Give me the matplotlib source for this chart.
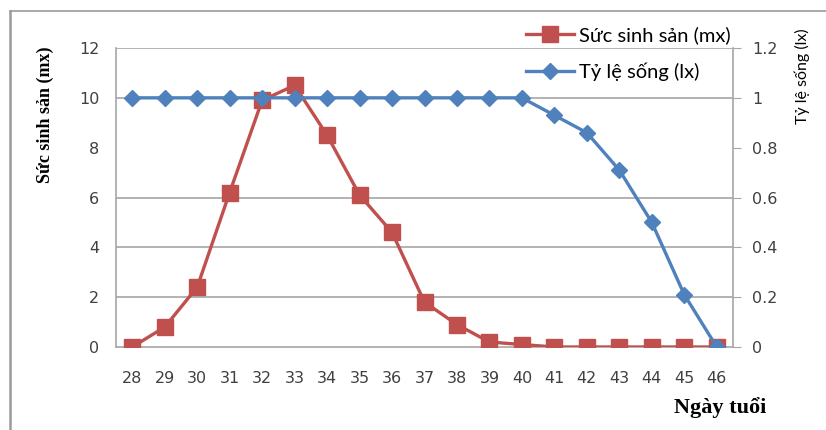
import numpy as np
import matplotlib
matplotlib.use('Agg')
import matplotlib.pyplot as plt
from matplotlib.lines import Line2D

# data
days = ['28', '29', '30', '31', '32', '33', '34', '35', '36', '37',
        '38', '39', '40', '41', '42', '43', '44', '45', '46']
mx = [0, 0.8, 2.4, 6.2, 9.9, 10.5, 8.5, 6.1, 4.6, 1.8,
      0.9, 0.2, 0.1, 0, 0, 0, 0, 0, 0]
lx = [1, 1, 1, 1, 1, 1, 1, 1, 1, 1,
      1, 1, 1, 0.93, 0.86, 0.71, 0.5, 0.21, 0]
left_ticks = [0, 2, 4, 6, 8, 10, 12]
grid_levels = [2, 4, 6, 10, 12]
right_ticks = [0, 0.2, 0.4, 0.6, 0.8, 1, 1.2]
right_labels = ['0', '0.2', '0.4', '0.6', '0.8', '1', '1.2']

red = '#C0504D'
blue = '#4F81BD'
grey = '#A6A6A6'
tickcol = '#404040'

fig = plt.figure(figsize=(8.26, 4.30), dpi=100)
ax = fig.add_axes([116/826, 1-347/430, 617/826, 299/430])
x = np.arange(len(days))

for g in grid_levels:
    ax.axhline(g, color=grey, lw=1.2, zorder=0)

l1, = ax.plot(x, mx, color=red, lw=2.4, marker='s', markersize=11,
              label='Sức sinh sản (mx)', zorder=3)
ax.set_ylim(0, 12)
ax.set_xlim(-0.5, len(days) - 0.5)
ax.set_yticks(left_ticks)
ax.set_xticks(x)
ax.set_xticklabels(days)
ax.tick_params(axis='y', length=0, pad=12, labelsize=11.5, labelcolor=tickcol)
ax.tick_params(axis='x', length=0, pad=17, labelsize=11.5, labelcolor=tickcol)
for s in ['top', 'right']:
    ax.spines[s].set_visible(False)
for s in ['left', 'bottom']:
    ax.spines[s].set_color(grey)
    ax.spines[s].set_linewidth(1.2)

ax2 = ax.twinx()
l2, = ax2.plot(x, lx, color=blue, lw=2.4, marker='D', markersize=8,
               label='Tỷ lệ sống (lx)', zorder=4)
ax2.set_ylim(0, 1.2)
ax2.set_yticks(right_ticks)
ax2.set_yticklabels(right_labels)
ax2.tick_params(axis='y', length=6, color=grey, pad=8, labelsize=11.5,
                labelcolor=tickcol)
for s in ['top', 'left', 'bottom']:
    ax2.spines[s].set_visible(False)
ax2.spines['right'].set_color(grey)
ax2.spines['right'].set_linewidth(1.2)

# legend entries (two separate spots, like the original)
for h, yy in [(l1, 35), (l2, 72)]:
    fig.legend(handles=[h], loc='center left',
               bbox_to_anchor=(526/826, 1-yy/430), frameon=False,
               prop={'family': 'Lato', 'size': 14.5}, handlelength=2.4,
               handletextpad=0.25, borderaxespad=0, borderpad=0)

# axis titles
fig.text(45/826, 1-115/430, 'Sức sinh sản (mx)', rotation=90, ha='center',
         va='center', family='Liberation Serif', weight='bold', fontsize=13)
fig.text(802/826, 1-76/430, 'Tỷ lệ sống (lx)', rotation=90, ha='center',
         va='center', family='Lato', fontsize=11.5)
fig.text(720/826, 1-408/430, 'Ngày tuổi', ha='center', va='center',
         family='Liberation Serif', weight='bold', fontsize=16)

# outer frame (top and left edges visible)
fig.add_artist(Line2D([10/826, 10/826], [0, 1-11/430], color='#9A9A9A', lw=1.8))
fig.add_artist(Line2D([10/826, 1], [1-11/430, 1-11/430], color='#9A9A9A', lw=1.2))

fig.savefig('out.png', dpi=100)
